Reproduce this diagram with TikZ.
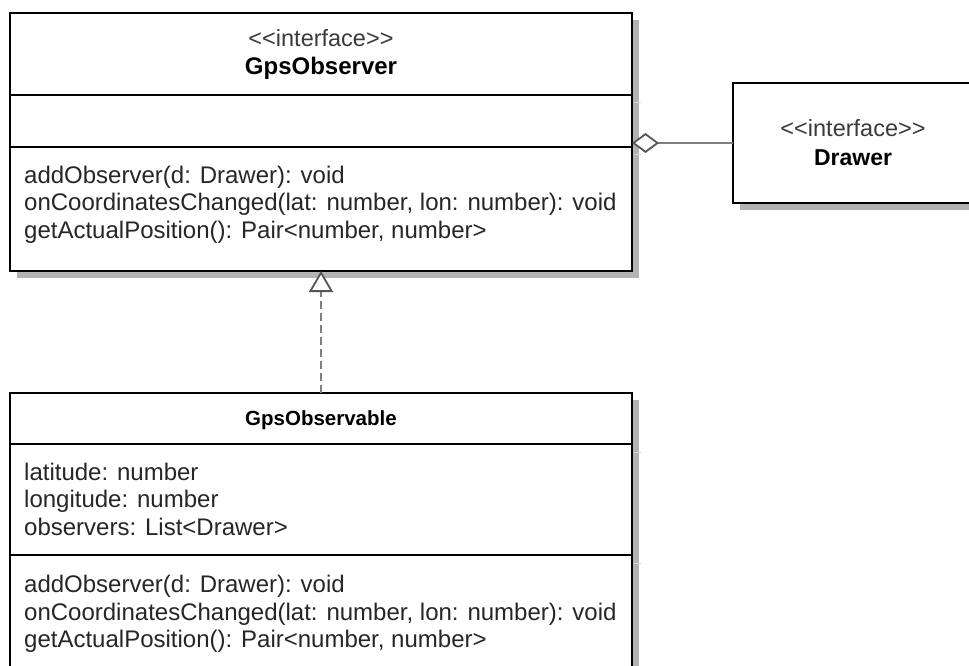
\documentclass[tikz,border=0pt]{standalone}
\usepackage{fontspec}
\setmainfont{Liberation Sans}[Ligatures=TeXOff]
\usetikzlibrary{arrows.meta}

\definecolor{shadowgray}{HTML}{B3B3B3}
\definecolor{shadowtick}{HTML}{D6D6D6}
\definecolor{linkgray}{HTML}{7F7F7F}
\definecolor{tipgray}{HTML}{555555}
\definecolor{textgray}{HTML}{262626}
\definecolor{stereogray}{HTML}{3A3A3A}

\begin{document}
\begin{tikzpicture}[x=1pt,y=-1pt,
  classbox/.style={draw=black, line width=2.2pt, fill=white, rectangle,
    inner sep=0pt, outer sep=0pt, anchor=north west},
  boxshadow/.style={fill=shadowgray, draw=none, rectangle,
    inner sep=0pt, outer sep=0pt, anchor=north west},
  divider/.style={draw=black, line width=2.2pt},
  tick/.style={draw=shadowtick, line width=1pt},
  member/.style={anchor=base west, inner sep=0pt, text=textgray,
    font=\fontsize{24}{24}\selectfont},
  stereo/.style={anchor=base, inner sep=0pt, text=stereogray,
    font=\fontsize{23.5}{24}\selectfont},
  classname/.style={anchor=base, inner sep=0pt, text=black,
    font=\fontsize{24}{24}\selectfont\bfseries},
  smallname/.style={anchor=base, inner sep=0pt, text=black,
    font=\fontsize{20.5}{20.5}\selectfont\bfseries},
  aggregation/.style={draw=linkgray, line width=1.8pt,
    -{Diamond[fill=white, color=tipgray, length=27pt, width=20pt]}},
  realization/.style={draw=linkgray, line width=1.8pt, dash pattern=on 8pt off 4pt,
    -{Triangle[fill=white, color=tipgray, length=21pt, width=24pt]}},
]
\useasboundingbox (0,0) rectangle (969,666);
\clip (0,0) rectangle (969,666);

% drop shadows
\node[boxshadow, minimum width=622pt, minimum height=258pt] (obs-sh) at (17,20) {};
\node[boxshadow, minimum width=240pt, minimum height=120pt] (drw-sh) at (740,90) {};
\node[boxshadow, minimum width=622pt, minimum height=320pt] (imp-sh) at (17,400) {};

% class boxes
\node[classbox, minimum width=622pt, minimum height=258pt] (obs) at (10,13) {};
\node[classbox, minimum width=240pt, minimum height=120pt] (drw) at (733,83) {};
\node[classbox, minimum width=622pt, minimum height=320pt] (imp) at (10,393) {};

% compartment dividers
\coordinate (d1) at (0,95);
\coordinate (d2) at (0,147);
\coordinate (d3) at (0,444);
\coordinate (d4) at (0,555);
\draw[divider] (obs.west |- d1) -- (obs.east |- d1);
\draw[divider] (obs.west |- d2) -- (obs.east |- d2);
\draw[divider] (imp.west |- d3) -- (imp.east |- d3);
\draw[divider] (imp.west |- d4) -- (imp.east |- d4);

% light marks on the shadow band next to the dividers
\draw[tick] (633.5,103) -- (641,103);
\draw[tick] (633.5,155) -- (641,155);
\draw[tick] (633.5,452) -- (641,452);
\draw[tick] (633.5,563) -- (641,563);

% connectors
\draw[aggregation] (drw.west) -- (drw.west -| obs.east);
\draw[realization] (imp.north) -- (obs.south);

% GpsObserver
\node[stereo] (obs-st) at (321,47) {<<interface>>};
\node[classname] (obs-nm) at (321,75) {GpsObserver};
\node[member] (obs-m1) at (24,183) {addObserver(d: Drawer): void};
\node[member] (obs-m2) at (24,210.5) {onCoordinatesChanged(lat: number, lon: number): void};
\node[member] (obs-m3) at (24,238) {getActualPosition(): Pair<number, number>};

% Drawer
\node[stereo] (drw-st) at (853,137) {<<interface>>};
\node[classname, font=\fontsize{23}{24}\selectfont\bfseries] (drw-nm) at (853,165) {Drawer};

% GpsObservable
\node[smallname] (imp-nm) at (321,425) {GpsObservable};
\node[member] (imp-f1) at (24,480) {latitude: number};
\node[member] (imp-f2) at (24,507.5) {longitude: number};
\node[member] (imp-f3) at (24,535) {observers: List<Drawer>};
\node[member] (imp-m1) at (24,592.5) {addObserver(d: Drawer): void};
\node[member] (imp-m2) at (24,620) {onCoordinatesChanged(lat: number, lon: number): void};
\node[member] (imp-m3) at (24,647.5) {getActualPosition(): Pair<number, number>};
\end{tikzpicture}
\end{document}
